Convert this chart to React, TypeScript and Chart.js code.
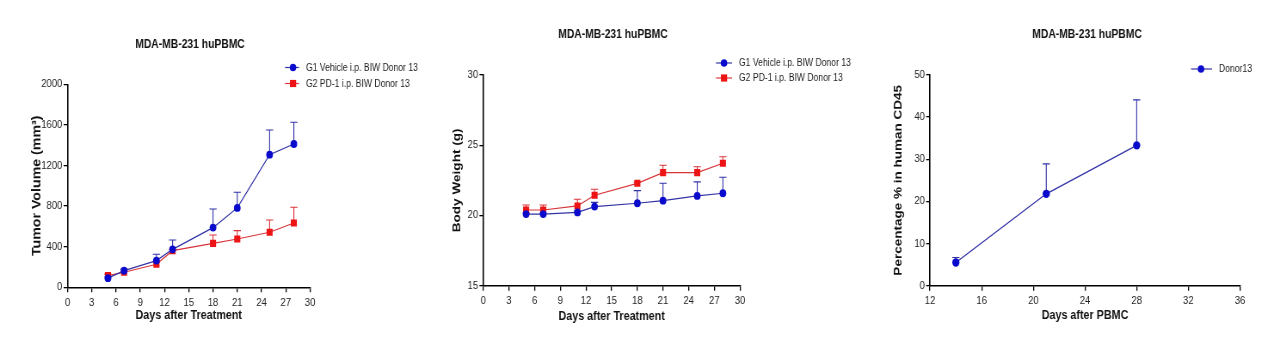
import React, { useEffect, useRef } from "react";
import { Chart, registerables } from "chart.js";
Chart.register(...registerables);

// ---------- data ----------
const days = [5, 7, 11, 13, 18, 21, 25, 28];
const tumorG1 = [90, 164, 263, 374, 588, 782, 1307, 1412];
const tumorG1Err = [12, 15, 62, 92, 184, 154, 243, 214];
const tumorG2 = [115, 148, 227, 361, 433, 476, 542, 634];
const tumorG2Err = [15, 10, 20, 10, 83, 82, 121, 154];

const weightG1 = [20.1, 20.1, 20.22, 20.63, 20.87, 21.05, 21.39, 21.58];
const weightG1Err = [0.08, 0.08, 0.1, 0.3, 0.9, 1.24, 1.0, 1.14];
const weightG2 = [20.39, 20.39, 20.68, 21.44, 22.29, 23.05, 23.05, 23.72];
const weightG2Err = [0.36, 0.36, 0.47, 0.43, 0.08, 0.52, 0.42, 0.46];

const cd45Days = [14, 21, 28];
const cd45 = [5.5, 21.8, 33.3];
const cd45Err = [1.2, 7.1, 10.8];

const chartTitle = "MDA-MB-231 huPBMC";
const g1Label = "G1 Vehicle i.p. BIW Donor 13";
const g2Label = "G2 PD-1 i.p. BIW Donor 13";
const donorLabel = "Donor13";

// ---------- rendering setup ----------
// The canvas is drawn wider and displayed at 1280px, giving the condensed look of the original.
const CW = 1488;
const CH = 361;
const SX = 1280 / CW;
const cx = (pageX: number) => pageX / SX;

const SANS = "'Liberation Sans', Arial, sans-serif";
const BLUE_PT = "#0a0acc";
const BLUE_LN = "#3232a6";
const RED_PT = "#ec1414";
const RED_LN = "#d8343a";

const pts = (xs: number[], ys: number[]) => xs.map((x, i) => ({ x, y: ys[i] }));

const overlayPlugin = {
  id: "overlay",
  beforeDatasetsDraw(chart: any) {
    const ctx = chart.ctx;
    const ys = chart.scales.y;
    chart.data.datasets.forEach((ds: any, i: number) => {
      const err = ds.errorUp;
      if (!err) return;
      const meta = chart.getDatasetMeta(i);
      ctx.save();
      ctx.strokeStyle = ds.errorColor;
      ctx.lineWidth = 1.1;
      meta.data.forEach((el: any, j: number) => {
        const yt = ys.getPixelForValue(ds.data[j].y + err[j]);
        ctx.beginPath();
        ctx.moveTo(el.x, el.y);
        ctx.lineTo(el.x, yt);
        ctx.moveTo(el.x - 4.2, yt);
        ctx.lineTo(el.x + 4.2, yt);
        ctx.stroke();
      });
      ctx.restore();
    });
  },
  afterDraw(chart: any, _args: any, opts: any) {
    const ctx = chart.ctx;
    ctx.save();
    ctx.font = `bold 12px ${SANS}`;
    ctx.fillStyle = "#111";
    ctx.textAlign = "center";
    ctx.textBaseline = "middle";
    ctx.fillText(opts.title, cx(opts.titleX), opts.titleY);
    ctx.font = `10px ${SANS}`;
    ctx.textAlign = "left";
    chart.data.datasets.forEach((ds: any, i: number) => {
      const y = opts.legendY + i * opts.legendGap;
      ctx.strokeStyle = ds.borderColor;
      ctx.lineWidth = 1.2;
      ctx.beginPath();
      ctx.moveTo(cx(opts.lineX0), y);
      ctx.lineTo(cx(opts.lineX1), y);
      ctx.stroke();
      ctx.fillStyle = ds.pointBackgroundColor;
      ctx.beginPath();
      if (ds.pointStyle === "rect") {
        const s = 3.6;
        ctx.rect(cx(opts.markerX) - s, y - s, 2 * s, 2 * s);
      } else {
        ctx.arc(cx(opts.markerX), y, 3.8, 0, Math.PI * 2);
      }
      ctx.fill();
      ctx.fillStyle = "#222";
      ctx.fillText(ds.label, cx(opts.textX), y + 0.5);
    });
    ctx.restore();
  },
};

function axes(o: any) {
  return {
    x: {
      type: "linear",
      min: o.xMin,
      max: o.xMax,
      ticks: {
        stepSize: o.xStep,
        autoSkip: false,
        maxRotation: 0,
        color: "#222",
        padding: 4,
        font: { family: SANS, size: 11 },
        callback: (v: any) => String(v),
      },
      grid: { drawOnChartArea: false, drawTicks: true, tickLength: 5, color: "#000", lineWidth: 1.3 },
      border: { display: true, color: "#000", width: 1.6 },
      title: {
        display: true,
        text: o.xTitle,
        color: "#111",
        font: { family: SANS, size: 12.5, weight: "bold" },
        padding: { top: 0, bottom: 4 },
      },
      afterFit: (s: any) => {
        s.height = o.xH;
      },
    },
    y: {
      type: "linear",
      min: o.yMin,
      max: o.yMax,
      ticks: {
        stepSize: o.yStep,
        autoSkip: false,
        color: "#222",
        padding: 1.5,
        font: { family: SANS, size: 11 },
        callback: (v: any) => String(v),
      },
      grid: { drawOnChartArea: false, drawTicks: true, tickLength: 4.5, color: "#000", lineWidth: 1.3 },
      border: { display: true, color: "#000", width: 1.6 },
      title: {
        display: true,
        text: o.yTitle,
        color: "#111",
        font: { family: SANS, size: o.yTitleSize, weight: "bold" },
        padding: { top: 4, bottom: 0 },
      },
      afterFit: (s: any) => {
        s.width = o.yW;
      },
    },
  };
}

// area is given in page pixels; yTitleX is the page x of the y-axis title centre
function baseOptions(area: any, ax: any, overlay: any) {
  const left = cx(area.left);
  const boxLeft = cx(ax.yTitleX) - (ax.yTitleSize * 0.6 + 4);
  ax.yW = left - boxLeft;
  return {
    responsive: false,
    animation: false,
    devicePixelRatio: 1,
    layout: {
      padding: {
        left: boxLeft,
        right: CW - cx(area.right),
        top: area.top,
        bottom: CH - area.bottom - ax.xH,
      },
    },
    plugins: { legend: { display: false }, title: { display: false }, tooltip: { enabled: false }, overlay },
    scales: axes(ax),
  };
}

function seriesDs(label: string, xs: number[], ys: number[], err: number[], red: boolean) {
  return {
    label,
    data: pts(xs, ys),
    errorUp: err,
    errorColor: red ? RED_LN : BLUE_LN,
    borderColor: red ? RED_LN : BLUE_LN,
    borderWidth: 1.2,
    pointStyle: red ? "rect" : "circle",
    pointRadius: red ? 5 : 3.9,
    pointBackgroundColor: red ? RED_PT : BLUE_PT,
    pointBorderColor: red ? RED_PT : BLUE_PT,
    pointBorderWidth: 0,
    tension: 0,
    showLine: true,
  };
}

function cfgTumor() {
  const ax = { xMin: 0, xMax: 30, xStep: 3, yMin: 0, yMax: 2000, yStep: 400, xTitle: "Days after Treatment", yTitle: "Tumor Volume (mm³)", yTitleX: 37, yTitleSize: 14.2, xH: 39.5 };
  return {
    type: "line",
    data: {
      datasets: [
        seriesDs(g1Label, days, tumorG1, tumorG1Err, false),
        seriesDs(g2Label, days, tumorG2, tumorG2Err, true),
      ],
    },
    options: baseOptions({ left: 67.5, right: 310, top: 84.3, bottom: 287.3 }, ax, {
      title: chartTitle, titleX: 190, titleY: 45,
      legendY: 67.5, legendGap: 16, lineX0: 285, lineX1: 299, markerX: 293, textX: 306,
    }),
    plugins: [overlayPlugin],
  };
}

function cfgWeight() {
  const ax = { xMin: 0, xMax: 30, xStep: 3, yMin: 15, yMax: 30, yStep: 5, xTitle: "Days after Treatment", yTitle: "Body Weight (g)", yTitleX: 457, yTitleSize: 13.6, xH: 42 };
  return {
    type: "line",
    data: {
      datasets: [
        seriesDs(g1Label, days, weightG1, weightG1Err, false),
        seriesDs(g2Label, days, weightG2, weightG2Err, true),
      ],
    },
    options: baseOptions({ left: 483.3, right: 740, top: 75, bottom: 285.7 }, ax, {
      title: chartTitle, titleX: 613, titleY: 35,
      legendY: 63, legendGap: 15, lineX0: 716, lineX1: 732, markerX: 724, textX: 739,
    }),
    plugins: [overlayPlugin],
  };
}

function cfgCd45() {
  const ax = { xMin: 12, xMax: 36, xStep: 4, yMin: 0, yMax: 50, yStep: 10, xTitle: "Days after PBMC", yTitle: "Percentage % in human CD45", yTitleX: 898.3, yTitleSize: 13.5, xH: 41 };
  const ds = seriesDs(donorLabel, cd45Days, cd45, cd45Err, false);
  ds.pointRadius = 4.2;
  return {
    type: "line",
    data: { datasets: [ds] },
    options: baseOptions({ left: 930, right: 1240, top: 75, bottom: 285.7 }, ax, {
      title: chartTitle, titleX: 1087, titleY: 35,
      legendY: 69, legendGap: 15, lineX0: 1191, lineX1: 1212, markerX: 1201, textX: 1219,
    }),
    plugins: [overlayPlugin],
  };
}

export default function App() {
  const r1 = useRef<HTMLCanvasElement>(null);
  const r2 = useRef<HTMLCanvasElement>(null);
  const r3 = useRef<HTMLCanvasElement>(null);
  useEffect(() => {
    const charts = [
      new Chart(r1.current as any, cfgTumor() as any),
      new Chart(r2.current as any, cfgWeight() as any),
      new Chart(r3.current as any, cfgCd45() as any),
    ];
    return () => charts.forEach((c) => c.destroy());
  }, []);
  return (
    <div style={{ position: "absolute", left: 0, top: 0, width: 1280, height: 361, background: "#fff", overflow: "hidden" }}>
      {[r1, r2, r3].map((r, i) => (
        <canvas
          key={i}
          ref={r}
          width={CW}
          height={CH}
          style={{ position: "absolute", left: 0, top: 0, width: "1280px", height: "361px" }}
        />
      ))}
    </div>
  );
}
